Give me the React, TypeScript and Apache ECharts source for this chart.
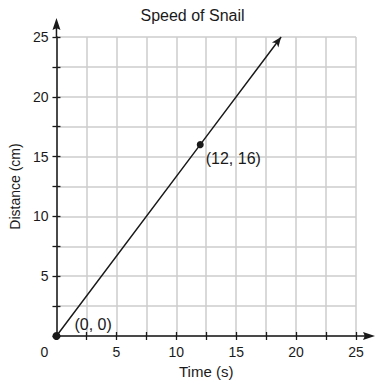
import React, { useEffect, useRef } from "react";
import * as echarts from "echarts";

const titleText = "Speed of Snail";
const xName = "Time (s)";
const yName = "Distance (cm)";
const axisMin = 0;
const axisMax = 25;
const tickStep = 2.5;
const labelStep = 5;
// points on the line: origin, labelled point, arrow end
const linePoints: [number, number][] = [
  [0, 0],
  [12, 16],
  [18.75, 25],
];
const pointLabels = ["(0, 0)", "(12, 16)", ""];

const FONT = "'Liberation Sans', Arial, Helvetica, sans-serif";
const INK = "#1a1a1a";
const GRID = "#cccccc";

const axisArrow = "path://M4 0 L8 12 L4.75 10.5 L4.75 19 L3.25 19 L3.25 10.5 L0 12 Z";
const lineArrow = "path://M4 0 M4 10 L8 20 L4 17.5 L0 20 Z";

const isLabelTick = (v: number) => Math.abs(v / labelStep - Math.round(v / labelStep)) < 1e-6;

export default function App() {
  const ref = useRef<HTMLDivElement>(null);
  useEffect(() => {
    if (!ref.current) return;
    const chart = echarts.init(ref.current, undefined, { renderer: "svg" });
    const angle = (Math.atan2(4, 3) * 180) / Math.PI - 90;
    const baseAxis = {
      type: "value" as const,
      min: axisMin,
      max: axisMax,
      interval: tickStep,
    };
    const data = linePoints.map((p, i) => {
      if (i === 0) {
        return {
          value: p,
          symbol: "circle",
          symbolSize: 8,
          label: {
            show: true,
            formatter: pointLabels[i],
            position: "right",
            distance: 5,
            offset: [9, -12],
          },
        };
      }
      if (i === 1) {
        return {
          value: p,
          symbol: "circle",
          symbolSize: 7,
          label: {
            show: true,
            formatter: pointLabels[i],
            position: "right",
            distance: 3,
            offset: [-1, 14],
          },
        };
      }
      return {
        value: p,
        symbol: lineArrow,
        symbolSize: [8, 20],
        symbolRotate: angle,
        label: { show: false },
      };
    });
    chart.setOption({
      animation: false,
      backgroundColor: "#ffffff",
      textStyle: { fontFamily: FONT },
      title: {
        text: titleText,
        left: "center",
        top: 2,
        textStyle: { fontSize: 16, fontWeight: "normal", color: INK, fontFamily: FONT },
      },
      grid: { left: 56, right: 29, top: 37, bottom: 49 },
      xAxis: [
        {
          ...baseAxis,
          position: "bottom",
          name: xName,
          nameLocation: "middle",
          nameGap: 28,
          nameTextStyle: { fontSize: 15, color: INK, fontFamily: FONT },
          axisLine: {
            show: true,
            symbol: ["none", axisArrow],
            symbolSize: [8, 19],
            symbolOffset: [0, 9.5],
            lineStyle: { color: INK, width: 1.5 },
          },
          axisTick: { show: true, length: 4, lineStyle: { color: INK, width: 1.3 } },
          axisLabel: {
            margin: 9,
            fontSize: 14,
            color: INK,
            fontFamily: FONT,
            formatter: (v: number) =>
              v === 0 ? "{o|0}" : isLabelTick(v) ? String(v) : "",
            rich: { o: { padding: [0, 24, 0, 0], fontSize: 14, color: INK, fontFamily: FONT } },
          },
          splitLine: { show: true, lineStyle: { color: GRID, width: 1.5 } },
        },
        {
          ...baseAxis,
          position: "bottom",
          axisLine: { show: false },
          axisTick: { show: true, inside: true, length: 4, lineStyle: { color: INK, width: 1.3 } },
          axisLabel: { show: false },
          splitLine: { show: false },
        },
      ],
      yAxis: [
        {
          ...baseAxis,
          position: "left",
          name: yName,
          nameLocation: "middle",
          nameGap: 31,
          nameTextStyle: { fontSize: 14, color: INK, fontFamily: FONT },
          axisLine: {
            show: true,
            symbol: ["none", axisArrow],
            symbolSize: [8, 19],
            symbolOffset: [0, 9.5],
            lineStyle: { color: INK, width: 1.5 },
          },
          axisTick: { show: true, length: 4, lineStyle: { color: INK, width: 1.3 } },
          axisLabel: {
            margin: 8,
            fontSize: 14,
            color: INK,
            fontFamily: FONT,
            formatter: (v: number) => (v !== 0 && isLabelTick(v) ? String(v) : ""),
          },
          splitLine: { show: true, lineStyle: { color: GRID, width: 1.5 } },
        },
        {
          ...baseAxis,
          position: "left",
          axisLine: { show: false },
          axisTick: { show: true, inside: true, length: 4, lineStyle: { color: INK, width: 1.3 } },
          axisLabel: { show: false },
          splitLine: { show: false },
        },
      ],
      series: [
        {
          type: "line",
          xAxisIndex: 0,
          yAxisIndex: 0,
          data,
          symbol: "circle",
          showSymbol: true,
          lineStyle: { color: INK, width: 1.5 },
          itemStyle: { color: INK },
          label: { fontSize: 16, color: INK, fontFamily: FONT },
          z: 5,
        },
      ],
    });
    return () => chart.dispose();
  }, []);
  return (
    <div
      ref={ref}
      style={{ position: "fixed", left: 0, top: 0, width: 385, height: 385, background: "#fff" }}
    />
  );
}
